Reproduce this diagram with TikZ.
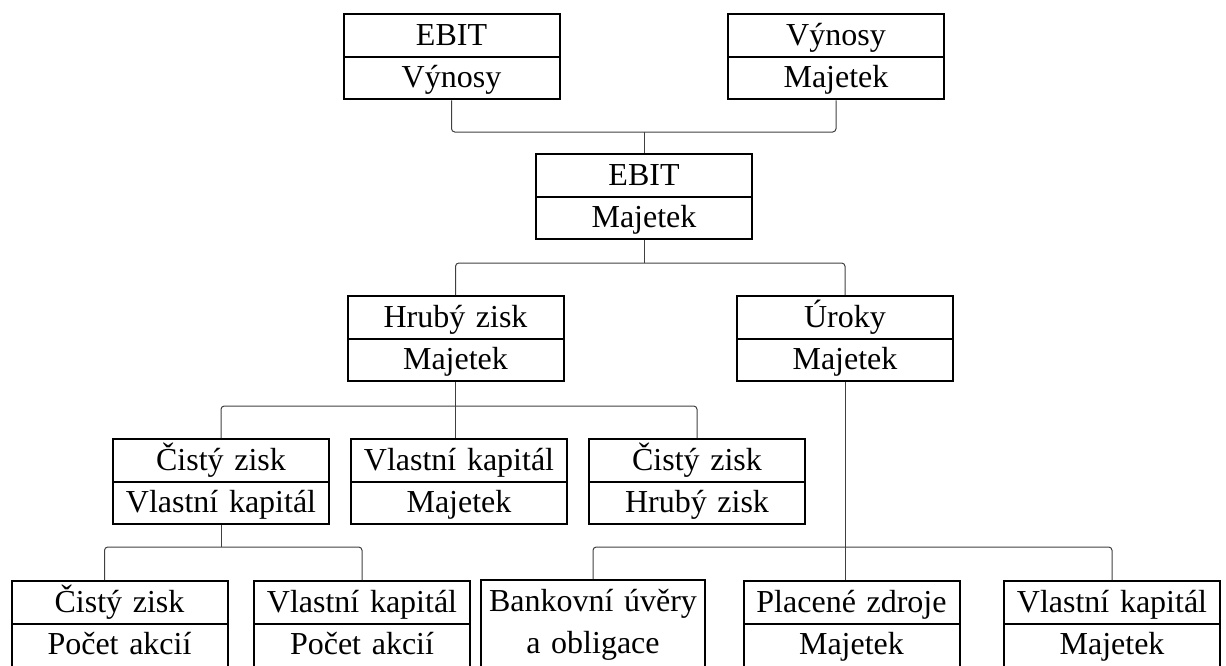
\documentclass[tikz,border=0pt]{standalone}
\usepackage{fontspec}
\setmainfont{Liberation Serif}
\usetikzlibrary{shapes.multipart,calc}

\newcommand{\rstrut}{\rule[-8pt]{0pt}{30.5pt}}
% optional argument: depth of the lower part
\newcommand{\ratiotext}[3][8pt]{\rstrut #2\nodepart{two}\rule[-#1]{0pt}{\dimexpr22.5pt+#1\relax}#3}

\tikzset{
  ratio/.style={draw, line width=1.5pt, rectangle split, rectangle split parts=2,
    text width=162pt, align=center, inner xsep=0pt, inner ysep=0pt,
    anchor=north, font=\fontsize{24}{28}\selectfont},
  conn/.style={draw=black!75, line width=0.75pt, rounded corners=2.5pt}
}

\begin{document}
\begin{tikzpicture}[x=0.75pt,y=0.75pt,yscale=-1,xscale=1]
\useasboundingbox (0,0) rectangle (1226,665);

%Top row
\node[ratio] (ebitvyn) at (451.5,13) {\ratiotext{EBIT}{Výnosy}};
\node[ratio] (vynmaj) at (836,13) {\ratiotext{Výnosy}{Majetek}};
%Second row
\node[ratio] (ebitmaj) at (644,153) {\ratiotext{EBIT}{Majetek}};
%Third row
\node[ratio] (hrubmaj) at (455.5,295) {\ratiotext{Hrubý zisk}{Majetek}};
\node[ratio] (urokmaj) at (845,295) {\ratiotext{Úroky}{Majetek}};
%Fourth row
\node[ratio] (cistvk) at (221,438) {\ratiotext{Čistý zisk}{Vlastní kapitál}};
\node[ratio] (vkmaj) at (459,438) {\ratiotext{Vlastní kapitál}{Majetek}};
\node[ratio] (cisthrub) at (697,438) {\ratiotext{Čistý zisk}{Hrubý zisk}};
%Bottom row (runs past the lower edge)
\node[ratio] (cistakc) at (119.5,580) {\ratiotext[14pt]{Čistý zisk}{Počet akcií}};
\node[ratio] (vkakc) at (362,580) {\ratiotext[14pt]{Vlastní kapitál}{Počet akcií}};
\node[ratio, text width=168pt, rectangle split draw splits=false] (bank) at (593,579) {\ratiotext[14pt]{Bankovní úvěry}{a obligace}};
\node[ratio] (plac) at (851.5,580) {\ratiotext[14pt]{Placené zdroje}{Majetek}};
\node[ratio] (vkmaj2) at (1112,580) {\ratiotext[14pt]{Vlastní kapitál}{Majetek}};

%Levels of the connectors
\coordinate (lvl1) at (0,132);
\coordinate (lvl2) at (0,263);
\coordinate (lvl3) at (0,406);
\coordinate (lvl4) at (0,547);

%Connectors
\draw[conn] (ebitvyn.south) |- (ebitmaj.north |- lvl1) -| (vynmaj.south);
\draw[conn] (ebitmaj.north) -- (ebitmaj.north |- lvl1);
\draw[conn] (hrubmaj.north) |- (ebitmaj.south |- lvl2) -| (urokmaj.north);
\draw[conn] (ebitmaj.south) -- (ebitmaj.south |- lvl2);
\draw[conn] (cistvk.north) |- (hrubmaj.south |- lvl3) -| (cisthrub.north);
\draw[conn] (hrubmaj.south) -- (hrubmaj.south |- vkmaj.north);
\draw[conn] ($(cistakc.north)+(-15,0)$) |- (cistvk.south |- lvl4) -| (vkakc.north);
\draw[conn] (cistvk.south) -- (cistvk.south |- lvl4);
\draw[conn] (bank.north) |- (urokmaj.south |- lvl4) -| (vkmaj2.north);
\draw[conn] (urokmaj.south) -- (urokmaj.south |- plac.north);

\end{tikzpicture}
\end{document}
